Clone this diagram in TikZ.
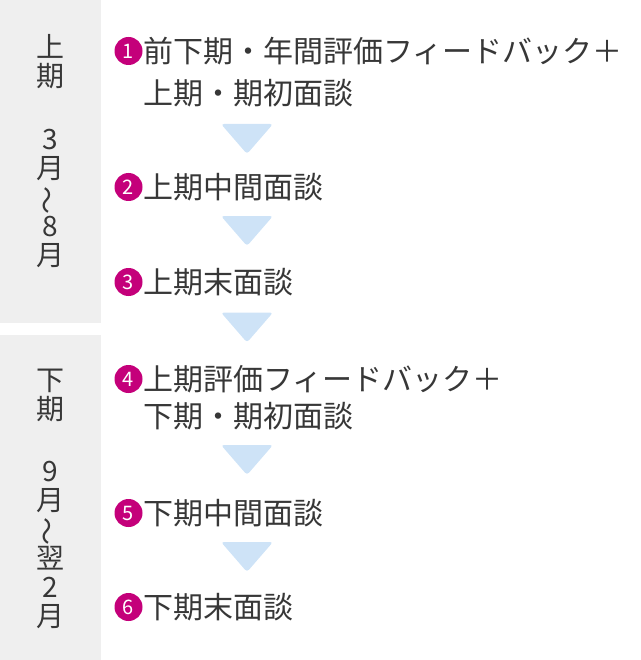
\documentclass[tikz,border=0pt]{standalone}
\usepackage{fontspec}
\setmainfont{Noto Sans CJK JP}
\usepackage{graphicx}
\usepackage{tikz}
\usetikzlibrary{positioning}
\definecolor{textgray}{RGB}{55,55,55}
\definecolor{panelgray}{RGB}{239,239,239}
\definecolor{stepmagenta}{RGB}{196,0,122}
\definecolor{arrowblue}{RGB}{206,227,247}
\tikzset{every picture/.style={x=1pt,y=1pt},
  panel/.style={fill=panelgray},
  num/.style={circle,fill=stepmagenta,text=white,inner sep=0pt,minimum size=28pt,font=\fontsize{20}{20}\selectfont},
  steptext/.style={inner sep=0pt,anchor=west,text=textgray,font=\fontsize{30}{36}\selectfont},
  sidetext/.style={inner sep=0pt,align=center,text=textgray,font=\fontsize{28}{29}\selectfont},
  downarrow/.style={fill=arrowblue,rounded corners=3pt}}
\newcommand{\vwave}{\rotatebox[origin=c]{90}{〜}}

\begin{document}
\begin{tikzpicture}
\useasboundingbox (0,0) rectangle (640,-660);
\fill[panel] (0,0) rectangle (101,-323);
\fill[panel] (0,-335) rectangle (101,-660);

% left column
\node (h1) [sidetext] at (50,-61.5) {上\\期};
\node (m1) [sidetext] at (50,-198.5) {3\\月\\\vwave\\8\\月};
\node (h2) [sidetext] at (50,-395.5) {下\\期};
\node (m2) [sidetext] at (50,-544.5) {9\\月\\\vwave\\翌\\2\\月};

% steps
\node (n1) [num] at (128.5,-51) {1};
\node (s1) [steptext, right=0.5pt of n1] {前下期・年間評価フィードバック＋};
\node (s1b) [steptext, below=42pt of s1.west, anchor=west] {上期・期初面談};
\node (n2) [num] at (128.5,-187) {2};
\node (s2) [steptext, right=0.5pt of n2] {上期中間面談};
\node (n3) [num] at (128.5,-282) {3};
\node (s3) [steptext, right=0.5pt of n3] {上期末面談};
\node (n4) [num] at (128.5,-379) {4};
\node (s4) [steptext, right=0.5pt of n4] {上期評価フィードバック＋};
\node (s4b) [steptext, below=37pt of s4.west, anchor=west] {下期・期初面談};
\node (n5) [num] at (128.5,-513) {5};
\node (s5) [steptext, right=0.5pt of n5] {下期中間面談};
\node (n6) [num] at (128.5,-607) {6};
\node (s6) [steptext, right=0.5pt of n6] {下期末面談};

% arrows between steps
\coordinate (a1) at (247,-139);
\coordinate (a2) at (247,-231);
\coordinate (a3) at (247,-327.5);
\coordinate (a4) at (247,-460);
\coordinate (a5) at (247,-557);
\fill[downarrow] (a1) +(-26,15) -- +(26,15) -- +(0,-15) -- cycle;
\fill[downarrow] (a2) +(-26,15) -- +(26,15) -- +(0,-15) -- cycle;
\fill[downarrow] (a3) +(-26,15) -- +(26,15) -- +(0,-15) -- cycle;
\fill[downarrow] (a4) +(-26,15) -- +(26,15) -- +(0,-15) -- cycle;
\fill[downarrow] (a5) +(-26,15) -- +(26,15) -- +(0,-15) -- cycle;
\end{tikzpicture}
\end{document}
